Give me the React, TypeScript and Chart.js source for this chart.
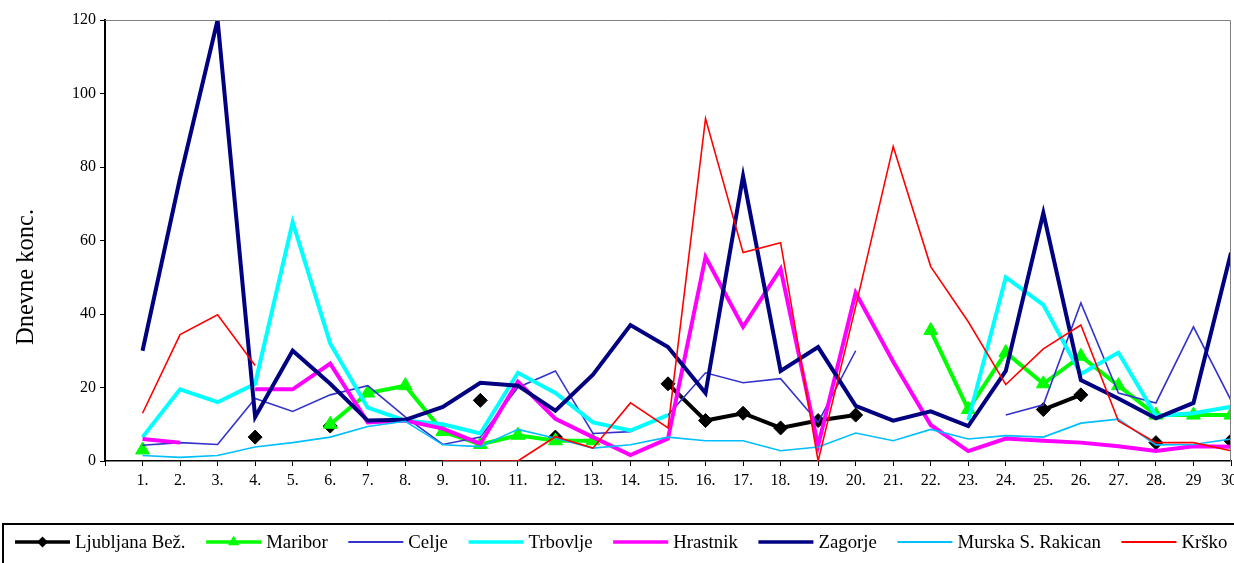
import React, { useEffect, useRef } from "react";
import { Chart, registerables } from "chart.js";

Chart.register(...registerables);

// ---- data ----
const days = [
  "1.", "2.", "3.", "4.", "5.", "6.", "7.", "8.", "9.", "10.",
  "11.", "12.", "13.", "14.", "15.", "16.", "17.", "18.", "19.", "20.",
  "21.", "22.", "23.", "24.", "25.", "26.", "27.", "28.", "29", "30.",
];
const yTicks = [0, 20, 40, 60, 80, 100, 120];
const yTitle = "Dnevne konc.";

const ljubljana = [null, null, null, 6.5, null, 9.5, null, null, null, 16.5, null, 6.5, null, null, 21, 11, 13, 9, 11, 12.5, null, null, null, null, 14, 18, null, 5, null, 5.5];
const maribor = [3, null, null, null, null, 10, 18.5, 20.5, 8, 4.5, 7, 5.5, 5.5, null, null, null, null, null, null, null, null, 35.5, 14, 29.5, 21, 28.5, 20.5, 12.5, 12.5, 12.5];
const celje = [4.3, 5, 4.5, 17, 13.5, 18, 20.5, 12, 4.5, 6.5, 20, 24.5, 7.5, 8, 12.5, 24, 21.3, 22.4, 10.5, 30, null, null, null, 12.5, 15.3, 43, 18.5, 15.8, 36.5, 16.5];
const trbovlje = [6.5, 19.5, 16, 21, 65, 32, 14.5, 11, 10, 7.5, 24, 18.5, 10.5, 8.3, 12.5, null, null, null, null, null, null, null, 11, 50, 42.5, 23.7, 29.5, 12.3, 13, 14.8];
const hrastnik = [6, 5, null, 19.5, 19.5, 26.5, 10.5, 11, 8.8, 4.7, 21.6, 11.5, 6.5, 1.6, 6.1, 55.5, 36.5, 52.3, 4.2, 45.8, 27, 9.8, 2.7, 6.1, 5.5, 5, 4, 2.7, 4, 3.9];
const zagorje = [30, 77, 120, 12, 30, 21, 11, 11.2, 14.7, 21.3, 20.5, 13.7, 23.5, 37, 31, 18.5, 77.5, 24.5, 31, 15, 11, 13.5, 9.5, 24.5, 67.5, 22, 17, 11.6, 15.8, 56.7];
const murska = [1.5, 1, 1.5, 3.8, 5, 6.5, 9.4, 10.8, 4.4, 3.9, 8.6, 6.2, 3.5, 4.4, 6.5, 5.5, 5.5, 2.8, 3.8, 7.6, 5.5, 8.6, 6, 6.9, 6.5, 10.3, 11.4, 4.4, 4.5, 6];
const krsko = [13, 34.4, 39.8, 26, null, null, null, null, 0, 0, 0, 6.6, 3.5, 15.8, 9, 93.2, 56.7, 59.4, 0, 42, 85.6, 52.9, 37.9, 20.8, 30.5, 37, 10.9, 5, 5, 2.8];

const seriesNames = ["Ljubljana Bež.", "Maribor", "Celje", "Trbovlje", "Hrastnik", "Zagorje", "Murska S. Rakican", "Krško"];
const seriesValues = [ljubljana, maribor, celje, trbovlje, hrastnik, zagorje, murska, krsko];

// ---- styles ----
const seriesColors = ["#000000", "#00ff00", "#3333cc", "#00ffff", "#ff00ff", "#000080", "#00bfff", "#ff0000"];
const seriesWidths = [4, 4, 1.6, 4, 4, 4, 1.6, 1.6];
const seriesMarkers: (string | null)[] = ["rectRot", "triangle", null, null, null, null, null, null];
const markerRadius: number[] = [7, 8, 0, 0, 0, 0, 0, 0];

const FONT = "'Liberation Serif', 'Times New Roman', serif";

const decorPlugin = {
  id: "decor",
  afterDraw(chart: any) {
    const { ctx, chartArea } = chart;
    ctx.save();
    // plot border (top and right)
    ctx.strokeStyle = "#808080";
    ctx.lineWidth = 1;
    ctx.beginPath();
    ctx.moveTo(chartArea.left, chartArea.top + 0.5);
    ctx.lineTo(chartArea.right - 0.5, chartArea.top + 0.5);
    ctx.lineTo(chartArea.right - 0.5, chartArea.bottom);
    ctx.stroke();

    // y title
    ctx.save();
    ctx.translate(33, 277);
    ctx.rotate(-Math.PI / 2);
    ctx.fillStyle = "#000";
    ctx.font = `24.5px ${FONT}`;
    ctx.textAlign = "center";
    ctx.textBaseline = "alphabetic";
    ctx.fillText(yTitle, 0, 0);
    ctx.restore();

    // legend box
    ctx.strokeStyle = "#000";
    ctx.lineWidth = 2;
    ctx.strokeRect(3, 524, 1400, 100);

    // legend items
    const ly = 542;
    let x = 15;
    ctx.font = `18.8px ${FONT}`;
    ctx.textBaseline = "middle";
    ctx.textAlign = "left";
    seriesNames.forEach((name, i) => {
      const len = 55;
      ctx.strokeStyle = seriesColors[i];
      ctx.lineWidth = seriesWidths[i] === 4 ? 3.5 : 2;
      ctx.beginPath();
      ctx.moveTo(x, ly);
      ctx.lineTo(x + len, ly);
      ctx.stroke();
      const m = seriesMarkers[i];
      if (m) {
        ctx.fillStyle = seriesColors[i];
        ctx.beginPath();
        const cx = x + len / 2;
        const r = markerRadius[i] - 1.5;
        if (m === "rectRot") {
          ctx.moveTo(cx - r, ly);
          ctx.lineTo(cx, ly - r);
          ctx.lineTo(cx + r, ly);
          ctx.lineTo(cx, ly + r);
        } else {
          ctx.moveTo(cx, ly - r);
          ctx.lineTo(cx + r * 0.866, ly + r / 2);
          ctx.lineTo(cx - r * 0.866, ly + r / 2);
        }
        ctx.closePath();
        ctx.fill();
      }
      ctx.fillStyle = "#000";
      ctx.fillText(name, x + len + 5, ly + 1);
      x += len + 5 + ctx.measureText(name).width + 20.6;
    });
    ctx.restore();
  },
};

export default function App() {
  const ref = useRef<HTMLCanvasElement | null>(null);

  useEffect(() => {
    document.body.style.margin = "0";
    const canvas = ref.current;
    if (!canvas) return;
    Chart.defaults.font.family = FONT;
    Chart.defaults.color = "#000";

    const datasets = seriesNames.map((name, i) => ({
      label: name,
      data: seriesValues[i].map((v, d) => ({ x: d + 1, y: v })),
      borderColor: seriesColors[i],
      backgroundColor: seriesColors[i],
      borderWidth: seriesWidths[i],
      pointStyle: seriesMarkers[i] || "circle",
      pointRadius: seriesMarkers[i] ? markerRadius[i] : 0,
      pointBorderWidth: 1,
      pointBorderColor: seriesColors[i],
      pointBackgroundColor: seriesColors[i],
      spanGaps: false,
      tension: 0,
      fill: false,
      order: seriesNames.length - i,
    }));

    const chart = new Chart(canvas, {
      type: "line",
      data: { datasets },
      plugins: [decorPlugin],
      options: {
        animation: false,
        responsive: false,
        events: [],
        layout: { padding: { top: 20, right: 31, bottom: 62, left: 0 } },
        plugins: {
          legend: { display: false },
          tooltip: { enabled: false },
        },
        scales: {
          x: {
            type: "linear",
            min: 0,
            max: 30,
            afterFit: (s: any) => { s.height = 40; },
            afterBuildTicks: (s: any) => {
              s.ticks = Array.from({ length: 31 }, (_, i) => ({ value: i }));
            },
            ticks: {
              autoSkip: false,
              maxRotation: 0,
              padding: 5,
              font: { size: 16, family: FONT },
              color: "#000",
              callback: (v: any) => (v >= 1 ? days[v - 1] : ""),
            },
            grid: { drawOnChartArea: false, drawTicks: true, tickLength: 5, color: "#000" },
            border: { color: "#000", width: 1.5 },
          },
          y: {
            min: 0,
            max: 120,
            afterFit: (s: any) => { s.width = 105; },
            afterBuildTicks: (s: any) => {
              s.ticks = yTicks.map((v) => ({ value: v }));
            },
            ticks: {
              padding: 4,
              font: { size: 16, family: FONT },
              color: "#000",
            },
            grid: { drawOnChartArea: false, drawTicks: true, tickLength: 5, color: "#000" },
            border: { color: "#000", width: 2 },
          },
        },
      } as any,
    });
    return () => chart.destroy();
  }, []);

  return (
    <div style={{ width: 1234, height: 563, overflow: "hidden", position: "relative", background: "#fff" }}>
      <canvas ref={ref} width={1262} height={563} style={{ width: 1262, height: 563, display: "block" }} />
    </div>
  );
}
